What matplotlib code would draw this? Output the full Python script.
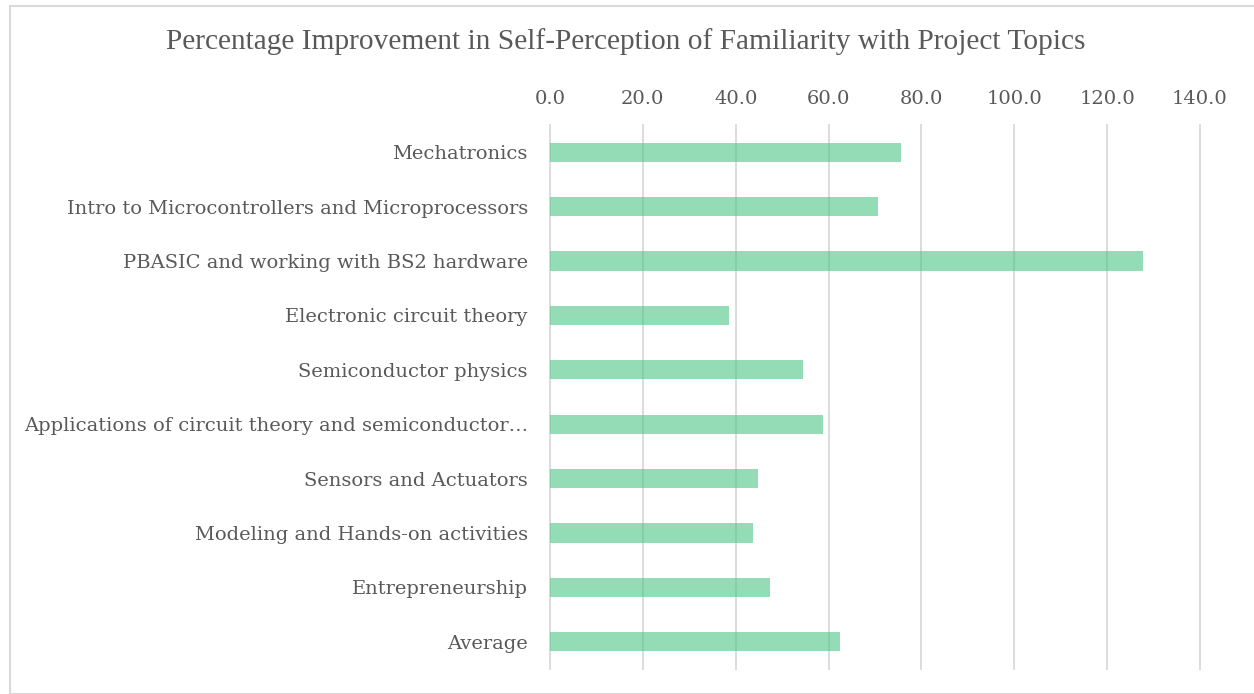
import matplotlib
matplotlib.use("Agg")
import matplotlib.pyplot as plt
from matplotlib.patches import Rectangle

categories = [
    "Mechatronics",
    "Intro to Microcontrollers and Microprocessors",
    "PBASIC and working with BS2 hardware",
    "Electronic circuit theory",
    "Semiconductor physics",
    "Applications of circuit theory and semiconductor…",
    "Sensors and Actuators",
    "Modeling and Hands-on activities",
    "Entrepreneurship",
    "Average",
]
values = [75.5, 70.7, 127.7, 38.6, 54.4, 58.8, 44.8, 43.7, 47.4, 62.4]
ticks = [0, 20, 40, 60, 80, 100, 120, 140]

plt.rcParams['font.family'] = ['DejaVu Serif']
W, H = 1254, 694
fig = plt.figure(figsize=(W/100, H/100), dpi=100)
fig.patches.append(Rectangle((10/W, 0), 1.2, (H-6)/H, transform=fig.transFigure,
                             fill=False, edgecolor='#d9d9d9', linewidth=1.5))

ax = fig.add_axes([550/W, 1-669/H, 650/W, 544/H])
y = list(range(len(categories)))
ax.barh(y, values, height=0.35, color='#4CC584', alpha=0.6, zorder=3, linewidth=0)
ax.set_ylim(len(categories)-0.5, -0.5)
ax.set_xlim(0, 140)
ax.set_xticks(ticks)
ax.set_xticklabels([f"{t:.1f}" for t in ticks])
ax.xaxis.tick_top()
ax.set_yticks(y)
ax.set_yticklabels(categories)
ax.tick_params(axis='both', length=0, labelsize=14, labelcolor='#595959')
ax.tick_params(axis='x', pad=12)
ax.tick_params(axis='y', pad=16)
for s in ax.spines.values():
    s.set_visible(False)
ax.grid(axis='x', color='#d9d9d9', linewidth=1.3, zorder=1)
for gl in ax.get_xgridlines():
    gl.set_clip_on(False)
ax.set_axisbelow(True)
fig.text(626/W, 1-42/H, "Percentage Improvement in Self-Perception of Familiarity with Project Topics",
         ha='center', va='center', fontsize=21.2, color='#595959', family='Liberation Serif')
fig.savefig("out.png", dpi=100)
